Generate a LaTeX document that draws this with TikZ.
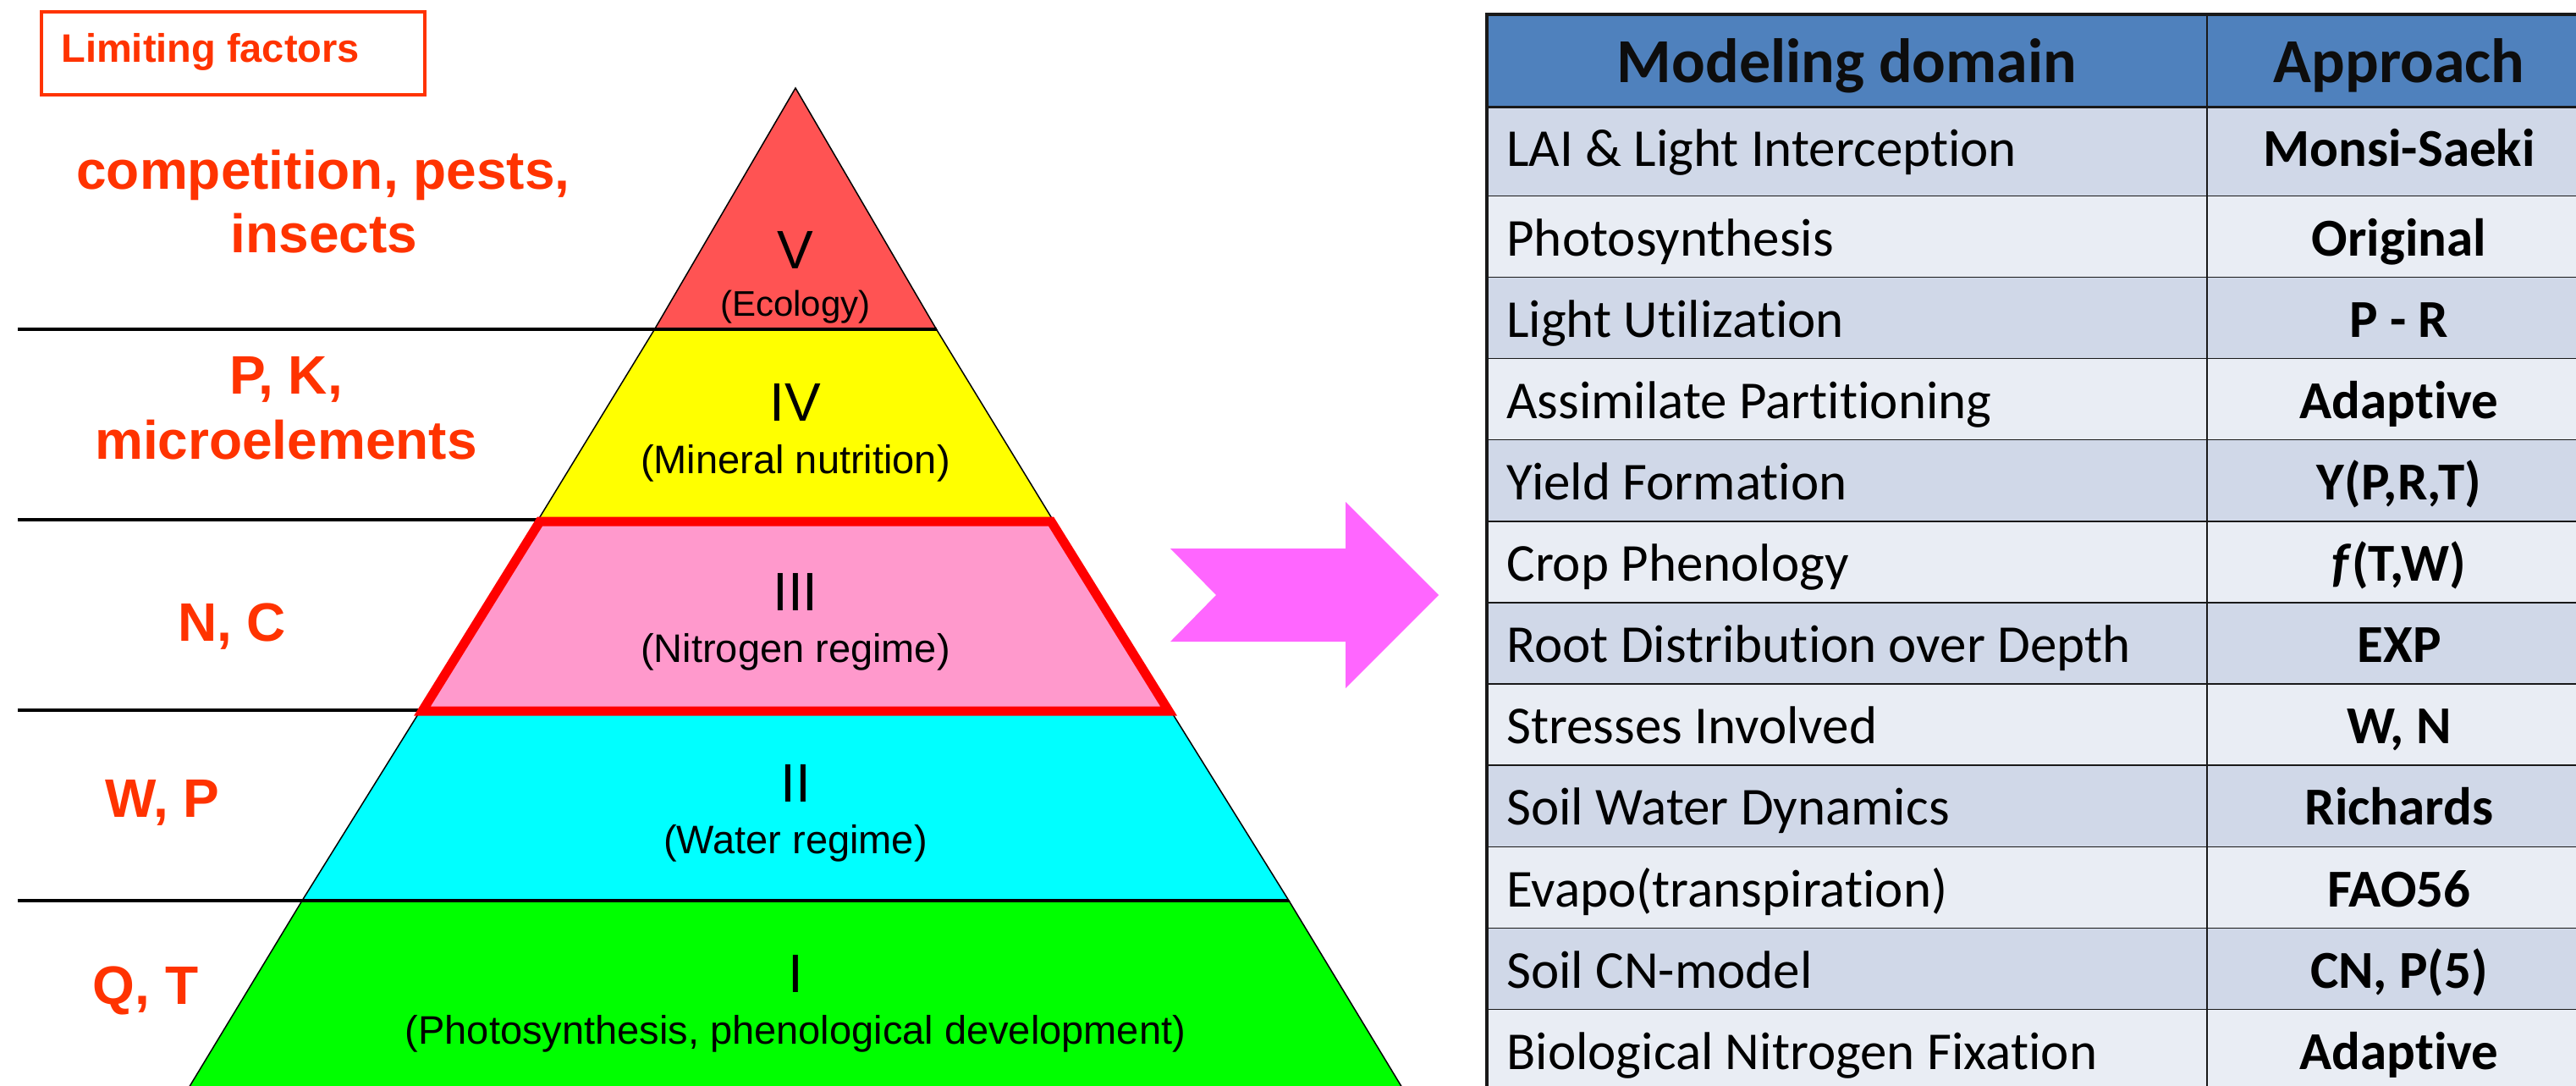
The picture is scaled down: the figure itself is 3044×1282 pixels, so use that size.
\documentclass[tikz,border=0pt]{standalone}
\usepackage{fontspec}
\setmainfont{Liberation Sans}
\newfontfamily\calibri[Ligatures={NoCommon,NoDiscretionary,NoContextual}]{Carlito}
\definecolor{labred}{HTML}{FF3300}
\definecolor{lvV}{HTML}{FF5353}
\definecolor{lvIV}{HTML}{FFFF00}
\definecolor{lvIII}{HTML}{FF99CC}
\definecolor{lvII}{HTML}{00FFFF}
\definecolor{lvI}{HTML}{00FF00}
\definecolor{hdrblue}{HTML}{4F81BD}
\definecolor{rowA}{HTML}{D0D8E8}
\definecolor{rowB}{HTML}{E9EDF4}
\definecolor{arrowpink}{HTML}{FF66FF}
\begin{document}
\begin{tikzpicture}[x=0.5pt,y=-0.5pt,
  lbl/.style={text=labred,font=\bfseries\fontsize{32}{38}\selectfont,inner sep=0,anchor=base},
  numtxt/.style={font=\fontsize{32}{38}\selectfont,inner sep=0,anchor=base},
  subtxt/.style={font=\fontsize{23.5}{28}\selectfont,inner sep=0,anchor=base},
  level/.style={draw=black,line width=0.75pt},
  sepline/.style={draw=black,line width=2pt},
  cell/.style={font=\calibri\fontsize{31.5}{38}\selectfont,inner sep=0,anchor=base west},
  appr/.style={font=\calibri\bfseries\fontsize{31.5}{38}\selectfont,inner sep=0,anchor=base},
  hdr/.style={font=\calibri\bfseries\fontsize{37}{44}\selectfont,inner sep=0,anchor=base,text=black!95},
  gridline/.style={draw=black!90,line width=1.5pt}]
\useasboundingbox (0,0) rectangle (3044,1282);
\clip (0,0) rectangle (3044,1282);
\fill[white] (0,0) rectangle (3044,1282);

% ---------- pyramid levels ----------
\filldraw[level,fill=lvV]   (940,104) -- (1106.5,389) -- (773.5,389) -- cycle;
\filldraw[level,fill=lvIV]  (773.5,389) -- (1106.5,389) -- (1244,614) -- (636,614) -- cycle;
\filldraw[level,fill=lvIII] (636,614) -- (1244,614) -- (1383,839) -- (497,839) -- cycle;
\filldraw[level,fill=lvII]  (497,839) -- (1383,839) -- (1523,1064) -- (357,1064) -- cycle;
\filldraw[level,fill=lvI]   (357,1064) -- (1523,1064) -- (1666,1300) -- (214,1300) -- cycle;

% level separators
\coordinate (s1a) at (21,389);  \coordinate (s1b) at (1106.5,389);
\coordinate (s2a) at (21,614);  \coordinate (s2b) at (636,614);
\coordinate (s3a) at (21,839);  \coordinate (s3b) at (497,839);
\coordinate (s4a) at (21,1064); \coordinate (s4b) at (1523,1064);
\draw[sepline] (s1a) -- (s1b);
\draw[sepline] (s2a) -- (s2b);
\draw[sepline] (s3a) -- (s3b);
\draw[sepline] (s4a) -- (s4b);

% highlighted level III
\draw[red,line width=5.5pt,line join=miter] (638,616) -- (1242,616) -- (1381,840) -- (499,840) -- cycle;

% pyramid texts
\node[numtxt] (tV)   at (940,317) {V};
\node[font=\fontsize{21}{25}\selectfont,inner sep=0,anchor=base] (sV) at (940,373) {(Ecology)};
\node[numtxt] (tIV)  at (940,497) {IV};
\node[subtxt] (sIV)  at (940,559) {(Mineral nutrition)};
\node[numtxt] (tIII) at (940,721) {III};
\node[subtxt] (sIII) at (940,782) {(Nitrogen regime)};
\node[numtxt] (tII)  at (940,947) {II};
\node[subtxt] (sII)  at (940,1008) {(Water regime)};
\node[numtxt] (tI)   at (940,1172) {I};
\node[subtxt] (sI)   at (940,1233) {(Photosynthesis, phenological development)};

% ---------- limiting factors ----------
\draw[labred,line width=2pt] (49,14) rectangle (502,112);
\node[text=labred,font=\bfseries\fontsize{23.5}{28}\selectfont,inner sep=0,anchor=base west] (lf) at (72,73) {Limiting factors};
\node[lbl] (f5a) at (382,223) {competition, pests,};
\node[lbl] (f5b) at (383,298) {insects};
\node[lbl] (f4a) at (338,465) {P, K,};
\node[lbl] (f4b) at (338,542) {microelements};
\node[lbl] (f3)  at (274,757) {N, C};
\node[lbl] (f2)  at (192,965) {W, P};
\node[lbl] (f1)  at (172,1186) {Q, T};

% ---------- arrow ----------
\fill[arrowpink] (1383,648) -- (1590,648) -- (1590,593) -- (1700,703) -- (1590,813)
  -- (1590,758) -- (1383,758) -- (1437,703) -- cycle;

% ---------- table ----------
\fill[hdrblue] (1757,17) rectangle (3062,126);
\foreach \i/\t/\b/\da/\ap in {
  1/126/232/{LAI \& Light Interception}/{Monsi-Saeki},
  2/232/328/{Photosynthesis}/{Original},
  3/328/424/{Light Utilization}/{P - R},
  4/424/520/{Assimilate Partitioning}/{Adaptive},
  5/520/616.5/{Yield Formation}/{Y(P,R,T)},
  6/616.5/712.5/{Crop Phenology}/{\textit{f}(T,W)},
  7/712.5/808.5/{Root Distribution over Depth}/{EXP},
  8/808.5/904.5/{Stresses Involved}/{W, N},
  9/904.5/1001/{Soil Water Dynamics}/{Richards},
  10/1001/1097/{Evapo(transpiration)}/{FAO56},
  11/1097/1193/{Soil CN-model}/{CN, P(5)},
  12/1193/1289/{Biological Nitrogen Fixation}/{Adaptive}}{
  \ifodd\i \def\rc{rowA}\else \def\rc{rowB}\fi
  \fill[\rc] (1757,\t) rectangle (3062,\b);
  \draw[gridline] (1757,\b) -- (3062,\b);
  \node[cell] (d\i) at (1780,\t+70) {\da};
  \node[appr] (a\i) at (2835,\t+70) {\ap};
}
\draw[gridline] (1757,126) -- (3062,126);
\draw[black!90,line width=1pt] (2608,17) -- (2608,1289);
\draw[black!90,line width=1.75pt] (1757,1289) -- (1757,17) -- (3062,17);
\node[hdr] (h1) at (2182.5,97) {Modeling domain};
\node[hdr] (h2) at (2835,97) {Approach};
\end{tikzpicture}
\end{document}
